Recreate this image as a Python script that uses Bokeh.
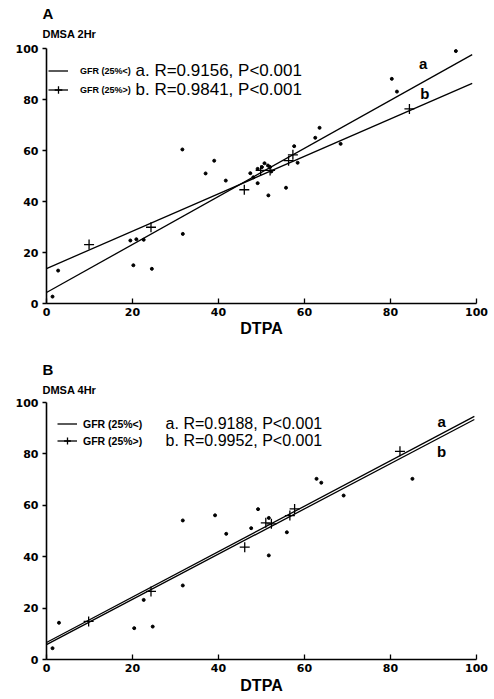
from bokeh.plotting import figure
from bokeh.layouts import column
from bokeh.models import Range1d, Label, Legend, LegendItem, FixedTicker, Title
from bokeh.embed import file_html
from bokeh.resources import INLINE

# ---- data ----
ticks = [0, 20, 40, 60, 80, 100]

# Panel A: DMSA 2Hr vs DTPA
a2_x = [1.4, 2.7, 19.5, 20.9, 22.6, 20.2, 24.5, 31.7, 31.6, 39.0, 37.0, 41.7, 47.4, 48.1, 49.1,
        50.1, 50.7, 51.5, 52.0, 52.3, 49.1, 51.6, 55.7, 57.6, 58.4, 62.5, 63.5, 68.4, 80.3, 81.5, 95.2]
a2_y = [2.7, 12.9, 24.7, 25.2, 25.0, 15.0, 13.6, 27.3, 60.4, 56.0, 51.0, 48.2, 51.1, 49.5, 52.8,
        53.5, 55.0, 54.1, 53.5, 51.8, 47.2, 42.4, 45.4, 61.7, 55.2, 65.0, 68.9, 62.6, 88.1, 83.1, 99.0]
b2_x = [9.9, 24.3, 46.0, 49.8, 52.0, 56.3, 57.3, 84.4]
b2_y = [23.1, 29.9, 44.6, 52.2, 52.2, 56.0, 58.3, 76.3]
fit_a2_x = [0, 99]
fit_a2_y = [4.3, 97.6]
fit_b2_x = [0, 99]
fit_b2_y = [13.7, 86.3]

# Panel B: DMSA 4Hr vs DTPA
a4_x = [1.4, 2.9, 20.4, 22.6, 24.7, 31.7, 39.2, 41.8, 31.7, 49.2, 51.7, 47.6, 55.9, 51.7, 62.8, 63.9, 69.1, 85.1]
a4_y = [4.4, 14.3, 12.2, 23.2, 12.8, 54.1, 56.1, 48.9, 28.8, 58.5, 55.1, 51.1, 49.5, 40.5, 70.3, 68.8, 63.8, 70.3]
b4_x = [9.8, 24.3, 46.1, 51.0, 52.3, 56.6, 57.7, 82.2]
b4_y = [14.8, 26.5, 43.7, 53.2, 52.8, 56.0, 58.6, 81.0]
fit_a4_x = [0, 99.5]
fit_a4_y = [6.6, 94.6]
fit_b4_x = [0, 99.5]
fit_b4_y = [5.8, 93.4]

legend_small = ["GFR (25%<)", "GFR (25%>)"]
stats_A = ["a. R=0.9156, P<0.001", "b. R=0.9841, P<0.001"]
stats_B = ["a. R=0.9188, P<0.001", "b. R=0.9952, P<0.001"]

HELV = "Liberation Sans"


def panel(letter, ylab, ax, ay, bx, by, fax, fay, fbx, fby, stats,
          height, bt, bb, leg_loc, leg_h, leg_font, leg_standoff,
          stat_x, stat_y, stat_font, ab_pos, spacer, ylab_standoff, letter_standoff, lab_standoff):
    p = figure(width=494, height=height, output_backend="svg", toolbar_location=None,
               x_range=Range1d(0, 100), y_range=Range1d(0, 100),
               min_border_left=46, min_border_right=18, min_border_top=bt, min_border_bottom=bb)
    p.outline_line_color = None
    p.grid.visible = False
    p.background_fill_color = "white"
    p.border_fill_color = "white"
    for axis in (p.xaxis, p.yaxis):
        axis.ticker = FixedTicker(ticks=ticks)
        axis.minor_tick_line_color = None
        axis.axis_line_width = 1.6
        axis.axis_line_color = "black"
        axis.major_tick_line_width = 1.3
        axis.major_tick_line_color = "black"
        axis.major_label_text_font = "DejaVu Sans"
        axis.major_label_text_font_style = "bold"
        axis.major_label_text_font_size = "11px"
        axis.major_label_text_color = "black"
    p.xaxis.major_tick_in = 5
    p.xaxis.major_tick_out = 0
    p.xaxis.major_label_standoff = 4
    p.xaxis.axis_label = "DTPA"
    p.xaxis.axis_label_text_font = HELV
    p.xaxis.axis_label_text_font_style = "bold"
    p.xaxis.axis_label_text_font_size = "16px"
    p.xaxis.axis_label_text_color = "black"
    p.xaxis.axis_label_standoff = lab_standoff
    p.yaxis.major_tick_in = 0
    p.yaxis.major_tick_out = 4
    p.yaxis.major_label_standoff = 4

    la = p.line(fax, fay, line_color="black", line_width=1.3)
    lb = p.line(fbx, fby, line_color="black", line_width=1.3)
    p.scatter(ax, ay, marker="circle", size=3, fill_color="black", line_color="black")
    cb = p.scatter(bx, by, marker="cross", size=10, line_color="black", line_width=1.3)

    leg = Legend(items=[LegendItem(label=legend_small[0], renderers=[la]),
                        LegendItem(label=legend_small[1], renderers=[lb, cb])],
                 location=leg_loc, orientation="vertical",
                 glyph_width=20, glyph_height=leg_h, label_height=leg_h,
                 label_standoff=leg_standoff, spacing=0, padding=0, margin=0,
                 border_line_color=None, background_fill_alpha=0,
                 label_text_font=HELV, label_text_font_style="bold",
                 label_text_font_size=leg_font, label_text_color="black")
    p.add_layout(leg)

    for txt, yy in zip(stats, stat_y):
        p.add_layout(Label(x=stat_x, y=yy, text=txt, text_font=HELV, text_font_size=stat_font,
                           text_baseline="middle", text_align="left", text_color="black"))
    for txt, (xx, yy) in zip(["a", "b"], ab_pos):
        p.add_layout(Label(x=xx, y=yy, text=txt, text_font=HELV, text_font_style="bold",
                           text_font_size="15px", text_baseline="middle", text_align="center",
                           text_color="black"))
    # spacer between frame and the small y title
    p.add_layout(Title(text=" ", align="left", standoff=spacer, text_font_size="1px"), "above")
    p.add_layout(Title(text=ylab, align="left", offset=-4, standoff=ylab_standoff,
                       text_font=HELV, text_font_style="bold", text_font_size="11px",
                       text_color="black"), "above")
    p.add_layout(Title(text=letter, align="left", offset=-4, standoff=letter_standoff,
                       text_font=HELV, text_font_style="bold", text_font_size="15px",
                       text_color="black"), "above")
    return p


pA = panel("A", "DMSA 2Hr", a2_x, a2_y, b2_x, b2_y, fit_a2_x, fit_a2_y, fit_b2_x, fit_b2_y, stats_A,
           height=343, bt=48, bb=40,
           leg_loc=(2, 204), leg_h=19, leg_font="9px", leg_standoff=12,
           stat_x=20.7, stat_y=[91.4, 83.9], stat_font="17px",
           ab_pos=[(87.6, 94.1), (88.0, 82.4)], spacer=2, ylab_standoff=8, letter_standoff=0,
           lab_standoff=1)

pB = panel("B", "DMSA 4Hr", a4_x, a4_y, b4_x, b4_y, fit_a4_x, fit_a4_y, fit_b4_x, fit_b4_y, stats_B,
           height=354, bt=59, bb=38,
           leg_loc=(11, 210), leg_h=17, leg_font="10.5px", leg_standoff=6,
           stat_x=27.7, stat_y=[91.8, 85.2], stat_font="16px",
           ab_pos=[(91.9, 92.6), (91.9, 80.9)], spacer=1, ylab_standoff=6, letter_standoff=2,
           lab_standoff=2)

layout = column(pA, pB)
open("out.html", "w").write(file_html(layout, INLINE))
